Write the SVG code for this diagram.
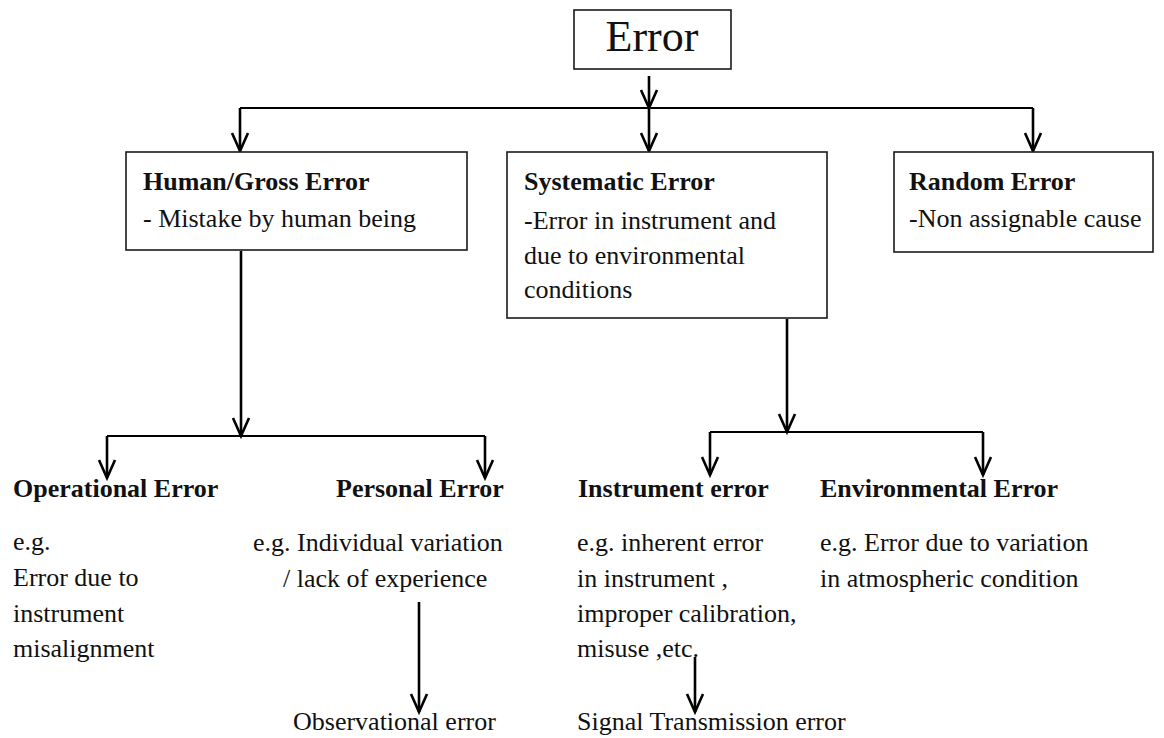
<svg xmlns="http://www.w3.org/2000/svg" width="1164" height="738" viewBox="0 0 1164 738">
<style>
  .box { fill: #ffffff; stroke: #1a1a1a; stroke-width: 1.6; }
  .t { font-family: "Liberation Serif", "Times New Roman", serif; font-size: 26px; fill: #111; }
  .h { font-family: "Liberation Serif", "Times New Roman", serif; font-size: 26px; font-weight: bold; fill: #111; }
  .big { font-family: "Liberation Serif", "Times New Roman", serif; font-size: 44px; fill: #111; }
  .c { fill: none; stroke: #000; stroke-width: 2.6; }
  .bus { fill: none; stroke: #000; stroke-width: 2; }
  .arr { fill: none; stroke: #000; stroke-width: 2.6; marker-end: url(#ah); }
</style>
<defs>
  <marker id="ah" markerUnits="userSpaceOnUse" markerWidth="24" markerHeight="24" viewBox="-20 -12 24 24" refX="0" refY="0" orient="auto" overflow="visible">
    <path d="M-18,-8 L0,0 L-18,8" fill="none" stroke="#000" stroke-width="2.6"/>
  </marker>
</defs>
<rect width="1164" height="738" fill="#ffffff"/>

<g id="connectors">
  <path class="arr" d="M649,76 L649,108"/>
  <path class="bus" d="M240,108 L1033,108"/>
  <path class="arr" d="M240,108 L240,151"/>
  <path class="arr" d="M649,108 L649,151"/>
  <path class="arr" d="M1033,108 L1033,151"/>

  <path class="arr" d="M241,251 L241,436"/>
  <path class="bus" d="M107,436 L485,436"/>
  <path class="arr" d="M107,436 L107,478"/>
  <path class="arr" d="M485,436 L485,478"/>

  <path class="arr" d="M787,319 L787,432"/>
  <path class="bus" d="M710,432 L983,432"/>
  <path class="arr" d="M710,432 L710,475"/>
  <path class="arr" d="M983,432 L983,475"/>

  <path class="arr" d="M419,602 L419,712"/>
  <path class="arr" d="M695,657 L695,712"/>
</g>

<g id="node-error">
  <rect class="box" x="574" y="10" width="157" height="59"/>
  <text class="big" x="652" y="51" text-anchor="middle">Error</text>
</g>

<g id="node-human">
  <rect class="box" x="126" y="152" width="341" height="98"/>
  <text class="h" x="143" y="190">Human/Gross Error</text>
  <text class="t" x="143" y="227">- Mistake by human being</text>
</g>

<g id="node-systematic">
  <rect class="box" x="507" y="152" width="320" height="166"/>
  <text class="h" x="524" y="190">Systematic Error</text>
  <text class="t" x="524" y="229">-Error in instrument and</text>
  <text class="t" x="524" y="264">due to environmental</text>
  <text class="t" x="524" y="298">conditions</text>
</g>

<g id="node-random">
  <rect class="box" x="894" y="152" width="259" height="100"/>
  <text class="h" x="909" y="190">Random Error</text>
  <text class="t" x="909" y="227">-Non assignable cause</text>
</g>

<g id="node-operational">
  <text class="h" x="13" y="497">Operational Error</text>
  <text class="t" x="13" y="550">e.g.</text>
  <text class="t" x="13" y="586">Error due to</text>
  <text class="t" x="13" y="622">instrument</text>
  <text class="t" x="13" y="657">misalignment</text>
</g>

<g id="node-personal">
  <text class="h" x="336" y="497">Personal Error</text>
  <text class="t" x="253" y="551">e.g. Individual variation</text>
  <text class="t" x="283" y="587">/ lack of experience</text>
</g>

<g id="node-observational">
  <text class="t" x="293" y="730">Observational error</text>
</g>

<g id="node-instrument">
  <text class="h" x="578" y="497">Instrument error</text>
  <text class="t" x="577" y="551">e.g. inherent error</text>
  <text class="t" x="577" y="587"> in instrument ,</text>
  <text class="t" x="577" y="622">improper calibration,</text>
  <text class="t" x="577" y="657">misuse ,etc.</text>
</g>

<g id="node-signal">
  <text class="t" x="577" y="730">Signal Transmission error</text>
</g>

<g id="node-environmental">
  <text class="h" x="820" y="497">Environmental Error</text>
  <text class="t" x="820" y="551">e.g. Error due to variation</text>
  <text class="t" x="820" y="587">in atmospheric condition</text>
</g>
</svg>
